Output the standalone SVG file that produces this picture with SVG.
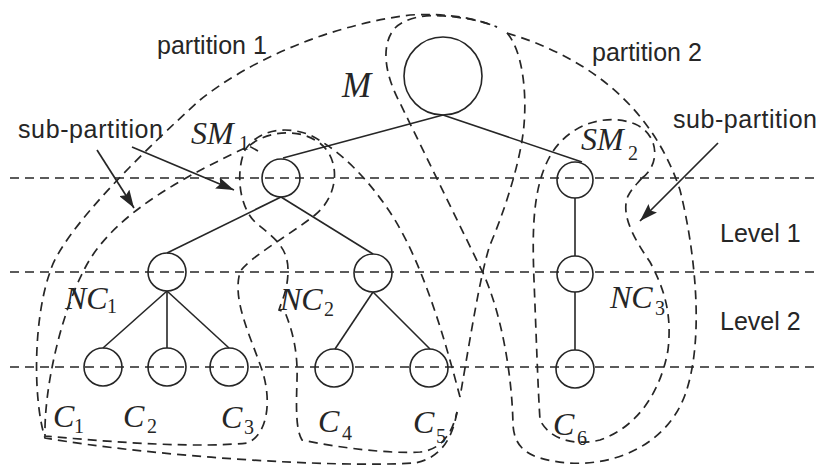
<svg xmlns="http://www.w3.org/2000/svg" width="820" height="467" viewBox="0 0 820 467">
  <style>
    .node { fill: none; stroke: #262626; stroke-width: 1.6; }
    .edge { fill: none; stroke: #262626; stroke-width: 1.6; }
    .dash { fill: none; stroke: #262626; stroke-width: 1.7; stroke-dasharray: 9 6; }
    .arrow { fill: none; stroke: #262626; stroke-width: 1.7; marker-end: url(#head); }
    .sans { font-family: "Liberation Sans", Arial, sans-serif; font-size: 25px; fill: #262626; }
    .var { font-family: "Liberation Serif", "Times New Roman", serif; font-style: italic; font-size: 32px; fill: #262626; }
    .sub { font-family: "Liberation Serif", "Times New Roman", serif; font-size: 20px; fill: #262626; }
  </style>
  <defs>
    <marker id="head" markerUnits="userSpaceOnUse" markerWidth="19" markerHeight="12" refX="18" refY="6" orient="auto">
      <path d="M0,0 L18,6 L0,12 L3,6 Z" fill="#262626"/>
    </marker>
  </defs>

  <rect width="820" height="467" fill="#ffffff"/>

  <!-- level separators -->
  <g id="levels">
    <line class="dash" x1="10" y1="178" x2="820" y2="178"/>
    <line class="dash" x1="10" y1="272" x2="820" y2="272"/>
    <line class="dash" x1="10" y1="367" x2="820" y2="367"/>
  </g>

  <!-- partition and sub-partition outlines -->
  <g id="regions">
    <!-- partition 1 -->
    <path id="partition1" class="dash" d="M507,33 C522,50 527,90 524,125 C521,160 505,210 490,245 C480,275 470,340 460,397 M457,412 C452,440 440,458 415,463 C330,468 150,456 45,438 C33,400 33,320 50,272 C62,230 150,145 200,100 C250,60 330,25 410,15 Q460,12 497,27"/>
    <!-- partition 2 -->
    <path id="partition2" class="dash" d="M507,33 C580,55 650,100 680,190 C695,250 705,340 685,395 C665,450 600,475 540,458 C520,452 514,440 513,425 C512,370 500,310 483,273 L400,103 C385,75 380,45 395,28 C405,18 425,14 443,16 Q475,18 497,27"/>
    <!-- sub-partition SM1 / NC1 -->
    <path id="subpartition1" class="dash" d="M258,151 L249,146 C195,172 115,210 85,268 C60,315 44,390 45,436 C120,443 200,448 247,443 C268,435 272,400 262,370 C250,335 232,300 240,272 C248,258 290,235 315,215 C340,195 342,155 315,140 C295,128 265,132 249,146"/>
    <!-- sub-partition SM1 / NC2 -->
    <path id="subpartition2" class="dash" d="M460,397 C445,340 425,270 395,220 C370,180 340,150 310,135 C285,125 258,130 245,150 C236,170 238,205 255,222 C270,235 288,245 288,270 C288,290 282,300 279,310 L285,312 C292,330 298,350 297,380 C296,410 296,430 302,440 C340,448 390,454 420,452 C440,450 452,435 457,412"/>
    <!-- sub-partition SM2 / NC3 -->
    <path id="subpartition3" class="dash" d="M642,178 C660,165 660,135 635,124 C605,112 565,125 548,160 C533,190 532,230 534,280 C536,330 538,390 540,420 C550,440 575,446 600,440 C635,428 660,395 668,350 C672,315 665,290 650,262 C635,240 620,215 628,196 C632,188 637,184 642,178"/>
  </g>

  <!-- tree edges and pointer arrows -->
  <g id="connectors">
    <line class="edge" x1="443" y1="115" x2="283" y2="158"/>
    <line class="edge" x1="443" y1="115" x2="582" y2="162"/>
    <line class="edge" x1="281" y1="197" x2="167" y2="253"/>
    <line class="edge" x1="281" y1="197" x2="373" y2="254"/>
    <line class="edge" x1="167" y1="291" x2="103" y2="348"/>
    <line class="edge" x1="167" y1="291" x2="167" y2="348"/>
    <line class="edge" x1="167" y1="291" x2="229" y2="348"/>
    <line class="edge" x1="373" y1="292" x2="335" y2="349"/>
    <line class="edge" x1="373" y1="292" x2="430" y2="349"/>
    <line class="edge" x1="575" y1="198" x2="575" y2="256"/>
    <line class="edge" x1="575" y1="292" x2="575" y2="350"/>
    <line class="arrow" x1="97" y1="150" x2="134" y2="208"/>
    <line class="arrow" x1="132" y1="147" x2="234" y2="190"/>
    <line class="arrow" x1="718" y1="143" x2="640" y2="221"/>
  </g>

  <!-- nodes -->
  <g id="node-M"><circle class="node" cx="443" cy="76" r="39"/></g>
  <g id="node-SM1"><circle class="node" cx="281" cy="178" r="19"/></g>
  <g id="node-SM2"><circle class="node" cx="575" cy="180" r="18"/></g>
  <g id="node-NC1"><circle class="node" cx="167" cy="272" r="19"/></g>
  <g id="node-NC2"><circle class="node" cx="373" cy="273" r="19"/></g>
  <g id="node-NC3"><circle class="node" cx="575" cy="274" r="18"/></g>
  <g id="node-C1"><circle class="node" cx="103" cy="367" r="19"/></g>
  <g id="node-C2"><circle class="node" cx="167" cy="367" r="19"/></g>
  <g id="node-C3"><circle class="node" cx="229" cy="367" r="19"/></g>
  <g id="node-C4"><circle class="node" cx="334" cy="368" r="19"/></g>
  <g id="node-C5"><circle class="node" cx="429" cy="368" r="19"/></g>
  <g id="node-C6"><circle class="node" cx="575" cy="369" r="19"/></g>

  <!-- labels -->
  <g id="labels">
    <text class="sans" x="157" y="54">partition 1</text>
    <text class="sans" x="592" y="61">partition 2</text>
    <text class="sans" x="18" y="138" textLength="145">sub-partition</text>
    <text class="sans" x="673" y="128" textLength="144">sub-partition</text>
    <text class="sans" x="720" y="242">Level 1</text>
    <text class="sans" x="720" y="330">Level 2</text>

    <text class="var" x="342" y="97" style="font-size:35px">M</text>
    <text class="var" x="191" y="144">SM</text><text class="sub" x="239" y="150">1</text>
    <text class="var" x="581" y="150">SM</text><text class="sub" x="628" y="160">2</text>
    <text class="var" x="65" y="309">NC</text><text class="sub" x="107" y="313">1</text>
    <text class="var" x="280" y="310">NC</text><text class="sub" x="324" y="316">2</text>
    <text class="var" x="610" y="308">NC</text><text class="sub" x="655" y="315">3</text>
    <text class="var" x="53" y="427">C</text><text class="sub" x="74" y="433">1</text>
    <text class="var" x="123" y="427">C</text><text class="sub" x="147" y="433">2</text>
    <text class="var" x="221" y="428">C</text><text class="sub" x="244" y="434">3</text>
    <text class="var" x="318" y="432">C</text><text class="sub" x="342" y="440">4</text>
    <text class="var" x="413" y="433">C</text><text class="sub" x="436" y="443">5</text>
    <text class="var" x="553" y="435">C</text><text class="sub" x="577" y="445">6</text>
  </g>
</svg>
